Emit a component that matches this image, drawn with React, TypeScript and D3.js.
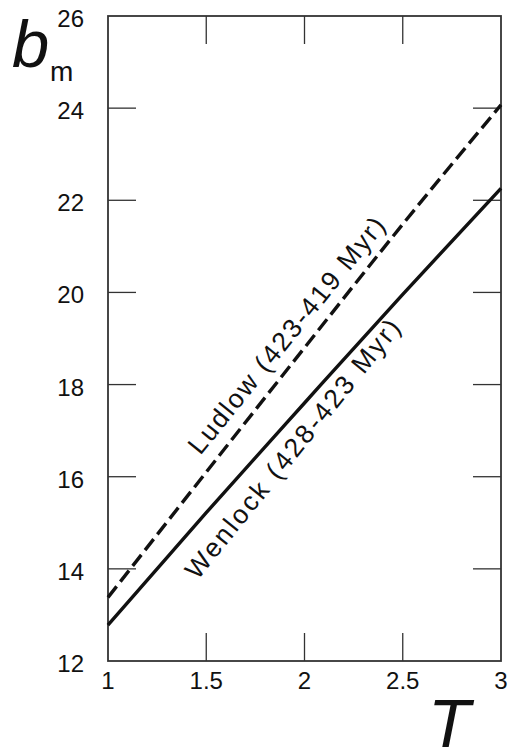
import React from 'react';
import * as d3 from 'd3';

const tValues = [1, 1.5, 2, 2.5, 3];
const ludlow = [13.38, 16.1, 18.8, 21.48, 24.07];
const wenlock = [12.78, 15.22, 17.6, 19.96, 22.26];
const yTicks = [12, 14, 16, 18, 20, 22, 24, 26];
const xTicks = [1, 1.5, 2, 2.5, 3];
const xTickLabels = ['1', '1.5', '2', '2.5', '3'];
const labels = [
    { text: 'Ludlow (423-419 Myr)', t: 1.47, b: 16.45, spacing: 2 },
    { text: 'Wenlock (428-423 Myr)', t: 1.455, b: 13.74, spacing: 2.5 }
];

const W = 513, H = 749;
const font = 'Arial, "Liberation Sans", Helvetica, sans-serif';

export default function App() {
    let x = d3.scaleLinear().domain([1, 3]).range([108, 501]);
    let y = d3.scaleLinear().domain([12, 26]).range([661, 16]);
    let line = d3.line<number>()
        .x((d, i) => x(tValues[i]))
        .y(d => y(d))
        .curve(d3.curveMonotoneX);

    let tickLen = 28;
    let axisColor = '#333';

    return (
        <div style={{ position: 'absolute', left: 0, top: 0 }}>
            <svg width={W} height={H} style={{ display: 'block' }} fontFamily={font}>
                <rect x={x(1)} y={y(26)} width={x(3) - x(1)} height={y(12) - y(26)}
                      fill="none" stroke={axisColor} strokeWidth={1.8} />
                {yTicks.slice(1, -1).map(v =>
                    <g key={'y' + v}>
                        <line x1={x(1)} x2={x(1) + tickLen} y1={y(v)} y2={y(v)} stroke={axisColor} strokeWidth={1.3} />
                        <line x1={x(3)} x2={x(3) - tickLen} y1={y(v)} y2={y(v)} stroke={axisColor} strokeWidth={1.3} />
                    </g>
                )}
                {yTicks.map(v =>
                    <text key={'yl' + v} x={84} y={y(v) + 11} textAnchor="end" fontSize={24} fill="#111">{v}</text>
                )}
                {xTicks.slice(1, -1).map(v =>
                    <g key={'x' + v}>
                        <line x1={x(v)} x2={x(v)} y1={y(12)} y2={y(12) - tickLen} stroke={axisColor} strokeWidth={1.3} />
                        <line x1={x(v)} x2={x(v)} y1={y(26)} y2={y(26) + tickLen} stroke={axisColor} strokeWidth={1.3} />
                    </g>
                )}
                {xTicks.map((v, i) =>
                    <text key={'xl' + v} x={x(v)} y={689} textAnchor="middle" fontSize={24} fill="#111">{xTickLabels[i]}</text>
                )}
                <path d={line(ludlow) || ''} fill="none" stroke="#111" strokeWidth={3.4} strokeDasharray="14 6" />
                <path d={line(wenlock) || ''} fill="none" stroke="#111" strokeWidth={3.4} />
                {labels.map(l =>
                    <text key={l.text} transform={`translate(${x(l.t)},${y(l.b)}) rotate(-51)`}
                          fontSize={26.5} letterSpacing={l.spacing} fill="#111">{l.text}</text>
                )}
                <text x={12} y={67} fontSize={67} fontStyle="italic" fill="#111">b</text>
                <text x={50} y={81} fontSize={28} fill="#111">m</text>
                <text x={428} y={747} fontSize={69} fontStyle="italic" fill="#111">T</text>
            </svg>
        </div>
    );
}
